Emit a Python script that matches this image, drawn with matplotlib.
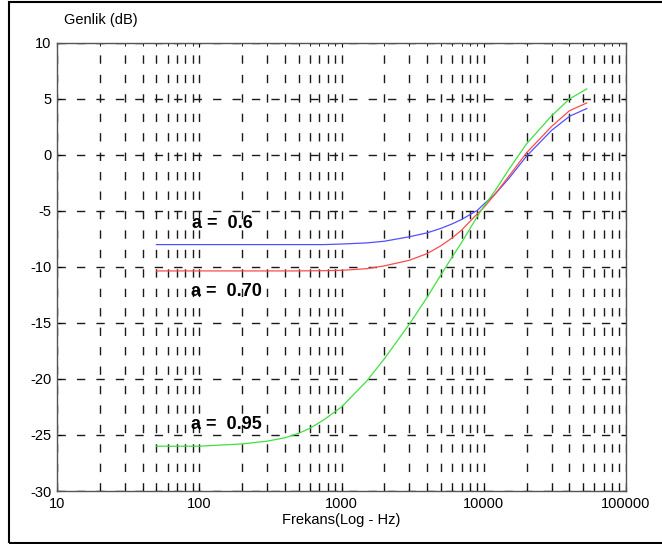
import numpy as np
import matplotlib.pyplot as plt
from matplotlib.patches import Rectangle
from matplotlib.ticker import LogLocator, NullFormatter, FixedLocator

plt.rcParams['font.family'] = ['Liberation Sans', 'DejaVu Sans']
plt.rcParams['axes.unicode_minus'] = False

# frequency points (Hz)
freq = [50, 100, 200, 300, 400, 500, 600, 750, 1000, 1500, 2000, 3000, 4000, 5000,
        6000, 7000, 9000, 10000, 12000, 15000, 20000, 30000, 40000, 53000]

# gain in dB for each a value
gain_06 = [-8.0, -8.0, -8.0, -8.0, -8.0, -8.0, -8.0, -8.0, -7.95, -7.85, -7.7, -7.3, -6.95, -6.55,
           -6.15, -5.75, -4.95, -4.4, -3.5, -2.1, -0.1, 2.2, 3.45, 4.15]
gain_070 = [-10.35, -10.35, -10.35, -10.35, -10.35, -10.35, -10.34, -10.33, -10.3, -10.15, -9.9,
            -9.4, -8.8, -8.1, -7.4, -6.7, -5.25, -4.7, -3.5, -1.9, 0.2, 2.55, 3.95, 4.65]
gain_095 = [-26.0, -26.0, -25.8, -25.55, -25.25, -24.85, -24.4, -23.65, -22.5, -20.2, -18.2,
            -15.1, -12.7, -10.7, -9.1, -7.8, -5.5, -4.6, -3.2, -1.3, 1.0, 3.5, 5.0, 5.9]

labels = ["a =  0.6", "a =  0.70", "a =  0.95"]
label_pos = [(89, -6.1), (87, -12.2), (87, -24.1)]

fig = plt.figure(figsize=(6.62, 5.44), dpi=100)
ax = fig.add_axes([57/662, 1 - 491/544, (626-57)/662, (491-43)/544])

ax.plot(freq, gain_06, color='#5050ff', linewidth=0.9)
ax.plot(freq, gain_070, color='#ff4a4a', linewidth=0.9)
ax.plot(freq, gain_095, color='#40e040', linewidth=0.9)

for txt, (x, y) in zip(labels, label_pos):
    ax.text(x, y, txt, fontsize=13, fontweight='bold', va='center', ha='left')

ax.set_xscale('log')
ax.set_xlim(10, 100000)
ax.set_ylim(-30, 10)
ax.set_yticks(np.arange(-30, 11, 5))
ax.xaxis.set_major_locator(FixedLocator([10, 100, 1000, 10000, 100000]))
ax.set_xticklabels(['10', '100', '1000', '10000', '100000'])
ax.xaxis.set_minor_locator(LogLocator(base=10, subs=np.arange(2, 10)))
ax.xaxis.set_minor_formatter(NullFormatter())

dash = (0, (6, 8))
ax.grid(True, which='major', axis='both', color='#1a1a1a', linewidth=1.0, linestyle=dash)
ax.grid(True, which='minor', axis='x', color='#1a1a1a', linewidth=1.0, linestyle=dash)

ax.tick_params(which='both', direction='in', top=True, right=True, labelsize=10.5,
               length=3, pad=4)
ax.tick_params(which='minor', length=2)
for s in ax.spines.values():
    s.set_color('#555555')
    s.set_linewidth(1.0)

ax.set_xlabel("Frekans(Log - Hz)", fontsize=10.5, labelpad=2)
fig.text(64/662, 1 - 20/544, "Genlik (dB)", fontsize=10.5, va='center', ha='left')

# outer frame around the picture
fig.patches.append(Rectangle((9/662, 1/544), 1.0, 1 - 3/544, transform=fig.transFigure,
                             fill=False, edgecolor='black', linewidth=1.5))

fig.savefig('out.png', dpi=100)
